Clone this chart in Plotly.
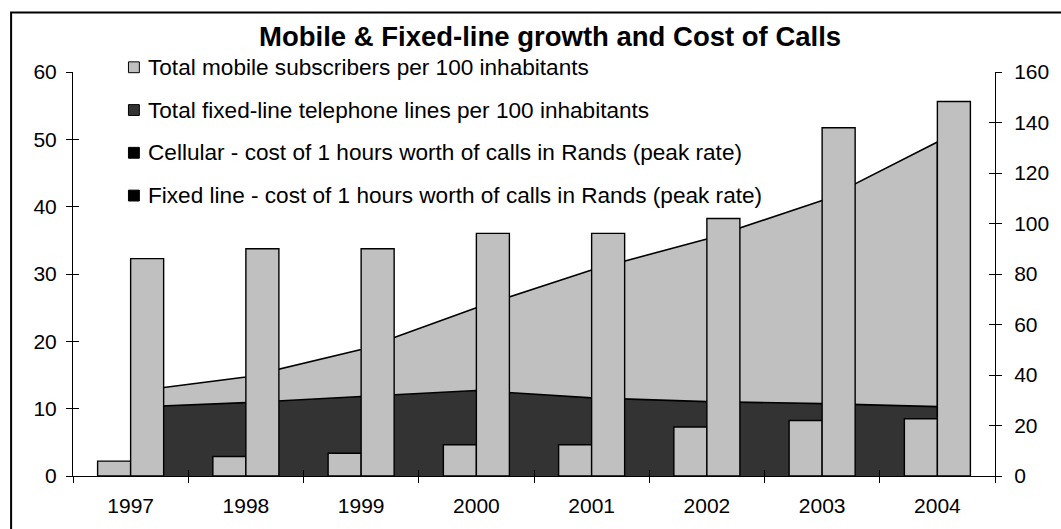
import plotly.graph_objects as go

# ---- data -------------------------------------------------------------
years = ["1997", "1998", "1999", "2000", "2001", "2002", "2003", "2004"]

# lines / subscribers per 100 inhabitants (left axis, stacked areas)
fixed_per100 = [10.2, 10.9, 11.8, 12.7, 11.6, 11.05, 10.75, 10.3]
mobile_per100 = [2.3, 3.8, 7.0, 12.3, 19.0, 24.15, 30.15, 39.3]

# cost of one hour of calls in Rands, peak rate (right axis, columns)
fixed_cost = [5.9, 7.7, 9.0, 12.4, 12.4, 19.4, 22.0, 22.7]
cell_cost = [86.1, 90.0, 90.0, 96.1, 96.1, 102.0, 137.9, 148.3]

left_ticks = [0, 10, 20, 30, 40, 50, 60]
right_ticks = [0, 20, 40, 60, 80, 100, 120, 140, 160]

title_text = "Mobile & Fixed-line growth and Cost of Calls"
legend_names = [
    "Total mobile subscribers per 100 inhabitants",
    "Total fixed-line telephone lines per 100 inhabitants",
    "Cellular - cost of 1 hours worth of calls in Rands (peak rate)",
    "Fixed line - cost of 1 hours worth of calls in Rands (peak rate)",
]
legend_colors = ["#C0C0C0", "#333333", "#000000", "#000000"]

# ---- layout geometry ----------------------------------------------------
W, H = 1061, 529
ML, MR, MT, MB = 73, 57, 72, 47
PW, PH = W - ML - MR, H - MT - MB
FONT = "Liberation Sans, Arial, sans-serif"
LIGHT, DARK = "#C0C0C0", "#333333"


def px_x(px):
    return (px - ML) / PW


def px_y(py):
    return (H - MB - py) / PH


fig = go.Figure()

# stacked areas on the left axis
fig.add_trace(go.Scatter(
    x=years, y=fixed_per100, name=legend_names[1], stackgroup="per100",
    mode="lines", line=dict(color="black", width=1.6), fillcolor=DARK,
    showlegend=False, hoverinfo="skip"))
fig.add_trace(go.Scatter(
    x=years, y=mobile_per100, name=legend_names[0], stackgroup="per100",
    mode="lines", line=dict(color="black", width=1.6), fillcolor=LIGHT,
    showlegend=False, hoverinfo="skip"))
# closing edge of the stacked area at the last year
fig.add_trace(go.Scatter(
    x=[years[-1], years[-1]], y=[0, fixed_per100[-1] + mobile_per100[-1]],
    mode="lines", line=dict(color="black", width=1.6),
    showlegend=False, hoverinfo="skip"))

# cost columns on the right axis (drawn above the areas)
fig.add_trace(go.Bar(
    x=years, y=fixed_cost, name=legend_names[3], yaxis="y2",
    marker=dict(color=LIGHT, line=dict(color="black", width=1.4)),
    showlegend=False))
fig.add_trace(go.Bar(
    x=years, y=cell_cost, name=legend_names[2], yaxis="y2",
    marker=dict(color=LIGHT, line=dict(color="black", width=1.4)),
    showlegend=False))

# empty helpers so the inner tick overlays get drawn
fig.add_trace(go.Scatter(x=[], y=[], xaxis="x2", yaxis="y", showlegend=False))
fig.add_trace(go.Scatter(x=[], y=[], xaxis="x", yaxis="y3", showlegend=False))
fig.add_trace(go.Scatter(x=[], y=[], xaxis="x", yaxis="y4", showlegend=False))

tickfont = dict(family=FONT, size=21, color="black")

fig.update_layout(
    width=W, height=H,
    margin=dict(l=ML, r=MR, t=MT, b=MB, pad=0),
    paper_bgcolor="white", plot_bgcolor="white",
    barmode="group", bargap=0.427, bargroupgap=0,
    showlegend=False,
    xaxis=dict(
        type="category", categoryorder="array", categoryarray=years,
        range=[-0.5, len(years) - 0.5], tickson="boundaries",
        ticks="outside", ticklen=6, tickcolor="black", tickwidth=1,
        showline=True, linecolor="black", linewidth=1,
        showgrid=False, zeroline=False, tickfont=tickfont,
        ticklabelstandoff=11, fixedrange=True),
    xaxis2=dict(
        overlaying="x", anchor="y", side="bottom", type="linear",
        range=[-0.5, len(years) - 0.5],
        tickvals=[i + 0.5 for i in range(len(years) - 1)],
        ticks="inside", ticklen=6, tickcolor="black", tickwidth=1,
        showticklabels=False, showgrid=False, zeroline=False, showline=False),
    yaxis=dict(
        range=[0, 60], tickvals=left_ticks, ticks="outside", ticklen=6,
        tickcolor="black", showline=True, linecolor="black", linewidth=1,
        showgrid=False, zeroline=False, tickfont=tickfont,
        ticklabelstandoff=5),
    yaxis2=dict(
        overlaying="y", side="right", anchor="x", range=[0, 160],
        tickvals=right_ticks, ticks="outside", ticklen=6, tickcolor="black",
        showline=True, linecolor="black", linewidth=1, showgrid=False,
        zeroline=False, tickfont=tickfont, ticklabelstandoff=8),
    yaxis3=dict(
        overlaying="y", side="left", anchor="x", range=[0, 60],
        tickvals=left_ticks, ticks="inside", ticklen=6, tickcolor="black",
        showticklabels=False, showline=False, showgrid=False, zeroline=False),
    yaxis4=dict(
        overlaying="y", side="right", anchor="x", range=[0, 160],
        tickvals=right_ticks, ticks="inside", ticklen=6, tickcolor="black",
        showticklabels=False, showline=False, showgrid=False, zeroline=False),
)

shapes = [
    # outer chart frame
    dict(type="rect", xref="paper", yref="paper",
         x0=px_x(10.5), x1=px_x(W + 20), y0=px_y(11.5), y1=px_y(H + 20),
         line=dict(color="black", width=2), fillcolor="rgba(0,0,0,0)"),
]
annotations = [
    dict(text=title_text, xref="paper", yref="paper",
         x=px_x(554.5), y=px_y(36.3), xanchor="center", yanchor="middle",
         showarrow=False, borderpad=0, borderwidth=0,
         font=dict(family=FONT, size=27.5, color="black", weight="bold")),
]

# legend: square swatches and labels
first_baseline, line_step = 74.9, 43.4
for i, (name, color) in enumerate(zip(legend_names, legend_colors)):
    base = first_baseline + i * line_step
    mid = base - 7.7
    shapes.append(dict(
        type="rect", xref="paper", yref="paper",
        x0=px_x(129), x1=px_x(140), y0=px_y(mid - 5.5), y1=px_y(mid + 5.5),
        line=dict(color="black", width=1), fillcolor=color))
    annotations.append(dict(
        text=name, xref="paper", yref="paper", x=px_x(148.5), y=px_y(mid),
        xanchor="left", yanchor="middle", showarrow=False,
        borderpad=0, borderwidth=0,
        font=dict(family=FONT, size=22.6, color="black")))

fig.update_layout(shapes=shapes, annotations=annotations)

fig.write_html("out.html", config={"displayModeBar": False})
